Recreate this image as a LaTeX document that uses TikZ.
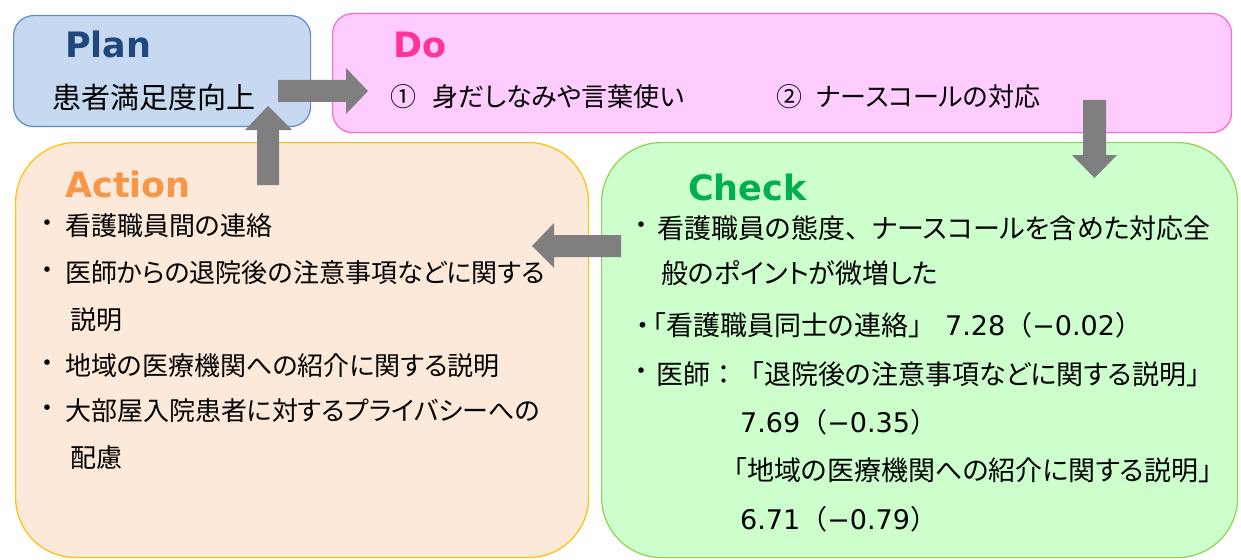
\documentclass[tikz,border=0pt]{standalone}
\usepackage{fontspec}
\newfontfamily\jp[RawFeature=+palt]{Noto Sans CJK JP}
\newfontfamily\jpf{Noto Sans CJK JP}
\newfontfamily\ttl{DejaVu Sans}
\newfontfamily\numf{DejaVu Sans}
\newcommand\fw[1]{{\jpf #1}}
\newcommand\nm[1]{{\numf\fontsize{27}{27}\selectfont#1}}
\definecolor{planfill}{HTML}{C6D9F1}
\definecolor{planline}{HTML}{5B8CC8}
\definecolor{dofill}{HTML}{FFCCFF}
\definecolor{doline}{HTML}{FF66CC}
\definecolor{actfill}{HTML}{FDE9D9}
\definecolor{actline}{HTML}{FFC000}
\definecolor{chkfill}{HTML}{CCFFCC}
\definecolor{chkline}{HTML}{92D050}
\definecolor{plantitle}{HTML}{1F497D}
\definecolor{dotitle}{HTML}{FF3399}
\definecolor{acttitle}{HTML}{F79646}
\definecolor{chktitle}{HTML}{00B050}
\definecolor{arrowgray}{HTML}{7F7F7F}
\begin{document}
\begin{tikzpicture}[x=1pt,y=-1pt,
  box/.style={anchor=north west, line width=1.2pt, inner sep=0pt},
  title/.style={anchor=base west, inner sep=0pt, font=\ttl\bfseries\fontsize{35}{35}\selectfont},
  txt/.style={anchor=west, inner sep=0pt, font=\jp\fontsize{26}{26}\selectfont},
  ctxt/.style={anchor=west, inner sep=0pt, font=\jp\fontsize{27}{27}\selectfont},
  bigtxt/.style={anchor=west, inner sep=0pt, font=\jp\fontsize{29}{29}\selectfont},
  bul/.style={anchor=center, inner sep=0pt, font=\jp\fontsize{26}{26}\selectfont},
  blockarrow/.style={fill=arrowgray}]
\useasboundingbox (0,0) rectangle (1241,559);
% boxes
\node[box, fill=actfill, draw=actline, rounded corners=60pt, minimum width=573pt, minimum height=415pt] (action) at (15,142) {};
\node[box, fill=chkfill, draw=chkline, rounded corners=60pt, minimum width=636pt, minimum height=415pt] (check) at (601,142) {};
\node[box, fill=planfill, draw=planline, rounded corners=20pt, minimum width=297pt, minimum height=111pt] (plan) at (13,15) {};
\node[box, fill=dofill, draw=doline, rounded corners=20pt, minimum width=899pt, minimum height=119pt] (do) at (332,13) {};
% titles
\node[title, text=plantitle] (tplan) at (65,58) {Plan};
\node[title, text=dotitle] (tdo) at (393,58) {Do};
\node[title, text=acttitle] (tact) at (65,197) {Action};
\node[title, text=chktitle] (tchk) at (688,200) {Check};
% plan / do text
\node[bigtxt] (p1) at (52,97) {患者満足度向上};
\node[txt] (d1a) at (390,97) {①};
\node[txt] (d1b) at (432,97) {身だしなみや言葉使い};
\node[txt] (d2a) at (776,97) {②};
\node[txt] (d2b) at (816,97) {ナースコールの対応};
% action text
\node[bul] (ab1) at (48,226) {・};
\node[txt] (a1) at (65,226) {看護職員間の連絡};
\node[bul] (ab2) at (48,273) {・};
\node[txt] (a2) at (65,273) {医師からの退院後の注意事項などに関する};
\node[txt] (a3) at (70,320) {説明};
\node[bul] (ab4) at (48,366) {・};
\node[txt] (a4) at (65,366) {地域の医療機関への紹介に関する説明};
\node[bul] (ab5) at (48,411) {・};
\node[txt] (a5) at (65,411) {大部屋入院患者に対するプライバシーへの};
\node[txt] (a6) at (70,458) {配慮};
% check text
\node[bul] (cb1) at (641,228) {・};
\node[ctxt] (c1) at (657,228) {看護職員の態度\fw{、}ナースコールを含めた対応全};
\node[ctxt] (c2) at (661,273) {般のポイントが微増した};
\node[ctxt] (c3) at (636,325) {・\hspace{3pt}「看護職員同士の連絡\fw{」}\hspace{10pt}\nm{7.28}\fw{（}\nm{−0.02}\fw{）}};
\node[bul] (cb4) at (641,374) {・};
\node[ctxt] (c4) at (656,374) {医師\fw{：「}退院後の注意事項などに関する説明\fw{」}};
\node[ctxt] (c5) at (740,422) {\nm{7.69}\fw{（}\nm{−0.35}\fw{）}};
\node[ctxt] (c6) at (720,470) {\fw{「}地域の医療機関への紹介に関する説明\fw{」}};
\node[ctxt] (c7) at (740,519) {\nm{6.71}\fw{（}\nm{−0.79}\fw{）}};
% block arrows
\fill[blockarrow] (278,80) -- (346,80) -- (346,68) -- (368,91) -- (346,114) -- (346,102) -- (278,102) -- cycle;
\fill[blockarrow] (257,185) -- (257,130) -- (245,130) -- (268,106) -- (292,130) -- (279,130) -- (279,185) -- cycle;
\fill[blockarrow] (621,235) -- (554,235) -- (554,223) -- (532,246) -- (554,268) -- (554,257) -- (621,257) -- cycle;
\fill[blockarrow] (1083,100) -- (1083,155) -- (1072,155) -- (1094.5,178) -- (1117,155) -- (1106,155) -- (1106,100) -- cycle;
\end{tikzpicture}
\end{document}
